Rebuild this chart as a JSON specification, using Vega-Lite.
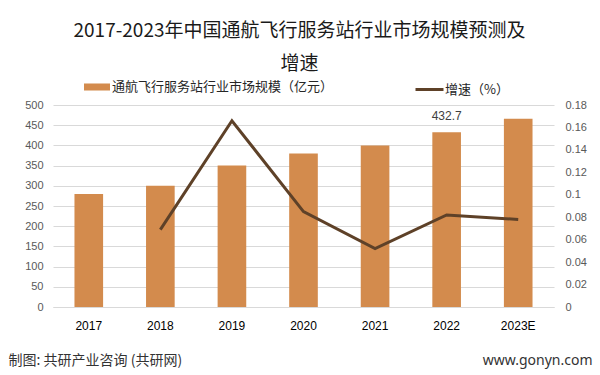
{
  "$schema": "https://vega.github.io/schema/vega-lite/v6.json",
  "width": 501,
  "height": 202,
  "autosize": {"type": "none"},
  "padding": {"left": 53, "top": 105, "right": 46, "bottom": 68},
  "background": "white",
  "title": {
    "text": ["2017-2023年中国通航飞行服务站行业市场规模预测及", "增速"],
    "font": "Noto Sans CJK SC",
    "fontSize": 19,
    "fontWeight": "normal",
    "color": "#1a1a1a",
    "anchor": "middle",
    "lineHeight": 33,
    "offset": 0,
    "dx": -4
  },
  "data": {
    "values": [
      {"year": "2017", "value": 280, "growth": null, "series": "通航飞行服务站行业市场规模（亿元）", "gs": "增速（%）"},
      {"year": "2018", "value": 300, "growth": 0.069, "series": "通航飞行服务站行业市场规模（亿元）", "gs": "增速（%）"},
      {"year": "2019", "value": 350, "growth": 0.166, "series": "通航飞行服务站行业市场规模（亿元）", "gs": "增速（%）"},
      {"year": "2020", "value": 380, "growth": 0.085, "series": "通航飞行服务站行业市场规模（亿元）", "gs": "增速（%）"},
      {"year": "2021", "value": 400, "growth": 0.052, "series": "通航飞行服务站行业市场规模（亿元）", "gs": "增速（%）"},
      {"year": "2022", "value": 432.7, "growth": 0.082, "series": "通航飞行服务站行业市场规模（亿元）", "gs": "增速（%）", "label": "432.7"},
      {"year": "2023E", "value": 466, "growth": 0.078, "series": "通航飞行服务站行业市场规模（亿元）", "gs": "增速（%）"}
    ]
  },
  "encoding": {
    "x": {
      "field": "year",
      "type": "ordinal",
      "sort": null,
      "scale": {"paddingInner": 0.6, "paddingOuter": 0.3}
    }
  },
  "layer": [
    {
      "encoding": {
        "y": {
          "field": "value",
          "type": "quantitative",
          "scale": {"domain": [0, 500], "nice": false},
          "axis": {
            "orient": "left",
            "values": [0, 50, 100, 150, 200, 250, 300, 350, 400, 450, 500],
            "title": null,
            "grid": true,
            "gridColor": "#d9d9d9",
            "gridWidth": 1,
            "domain": false,
            "ticks": false,
            "labelColor": "#595959",
            "labelFont": "Liberation Sans",
            "labelFontSize": 11,
            "labelPadding": 10
          }
        }
      },
      "layer": [
        {
          "mark": {"type": "bar", "color": "#D38B4D"},
          "encoding": {
            "x": {
              "field": "year",
              "type": "ordinal",
              "sort": null,
              "axis": {
                "orient": "bottom",
                "labelAngle": 0,
                "labelColor": "#000000",
                "labelFont": "Liberation Sans",
                "labelFontSize": 12,
                "labelPadding": 13,
                "domain": true,
                "domainColor": "#d9d9d9",
                "ticks": false,
                "grid": false,
                "title": "制图: 共研产业咨询 (共研网)",
                "titleFont": "Noto Sans CJK SC",
                "titleFontSize": 14,
                "titleFontWeight": "normal",
                "titleColor": "#333333",
                "titleAnchor": "start",
                "titleAlign": "left",
                "titleBaseline": "middle",
                "titleX": -45,
                "titleY": 53
              }
            },
            "color": {
              "field": "series",
              "type": "nominal",
              "scale": {"range": ["#D38B4D"]},
              "legend": {
                "orient": "none",
                "legendX": 31,
                "legendY": -31,
                "title": null,
                "symbolType": "M-1,-0.27H1V0.27H-1Z",
                "symbolSize": 676,
                "symbolStrokeWidth": 0,
                "labelFont": "Noto Sans CJK SC",
                "labelFontSize": 13,
                "labelColor": "#262626",
                "labelOffset": 2,
                "labelLimit": 400
              }
            }
          }
        },
        {
          "mark": {"type": "text", "dy": -9, "baseline": "bottom", "font": "Liberation Sans", "fontSize": 12, "color": "#404040"},
          "transform": [{"filter": "datum.label != null"}],
          "encoding": {
            "text": {"field": "label"}
          }
        }
      ]
    },
    {
      "transform": [{"filter": "datum.growth != null"}],
      "mark": {"type": "line", "strokeWidth": 3, "color": "#5E4128"},
      "encoding": {
        "x": {
          "field": "year",
          "type": "ordinal",
          "sort": null,
          "axis": {
            "orient": "bottom",
            "labels": false,
            "ticks": false,
            "domain": false,
            "grid": false,
            "offset": 0,
            "title": "www.gonyn.com",
            "titleFont": "Noto Sans",
            "titleFontSize": 14,
            "titleFontWeight": "normal",
            "titleColor": "#333333",
            "titleAnchor": "end",
            "titleAlign": "right",
            "titleBaseline": "middle",
            "titleX": 539,
            "titleY": 53
          }
        },
        "y": {
          "field": "growth",
          "type": "quantitative",
          "scale": {"domain": [0, 0.18], "nice": false},
          "axis": {
            "orient": "right",
            "values": [0, 0.02, 0.04, 0.06, 0.08, 0.1, 0.12, 0.14, 0.16, 0.18],
            "labelExpr": "format(datum.value, '~g')",
            "title": null,
            "grid": false,
            "domain": false,
            "ticks": false,
            "labelColor": "#595959",
            "labelFont": "Liberation Sans",
            "labelFontSize": 11,
            "labelPadding": 11
          }
        },
        "stroke": {
          "field": "gs",
          "type": "nominal",
          "scale": {"range": ["#5E4128"]},
          "legend": {
            "orient": "none",
            "legendX": 361,
            "legendY": -31,
            "title": null,
            "symbolType": "stroke",
            "symbolSize": 784,
            "symbolStrokeWidth": 3,
            "labelFont": "Noto Sans CJK SC",
            "labelFontSize": 13,
            "labelColor": "#262626",
            "labelOffset": 0
          }
        }
      }
    }
  ],
  "resolve": {"scale": {"y": "independent", "color": "independent", "stroke": "independent"}, "axis": {"x": "independent"}, "legend": {"color": "independent", "stroke": "independent"}},
  "config": {"view": {"stroke": null}}
}
